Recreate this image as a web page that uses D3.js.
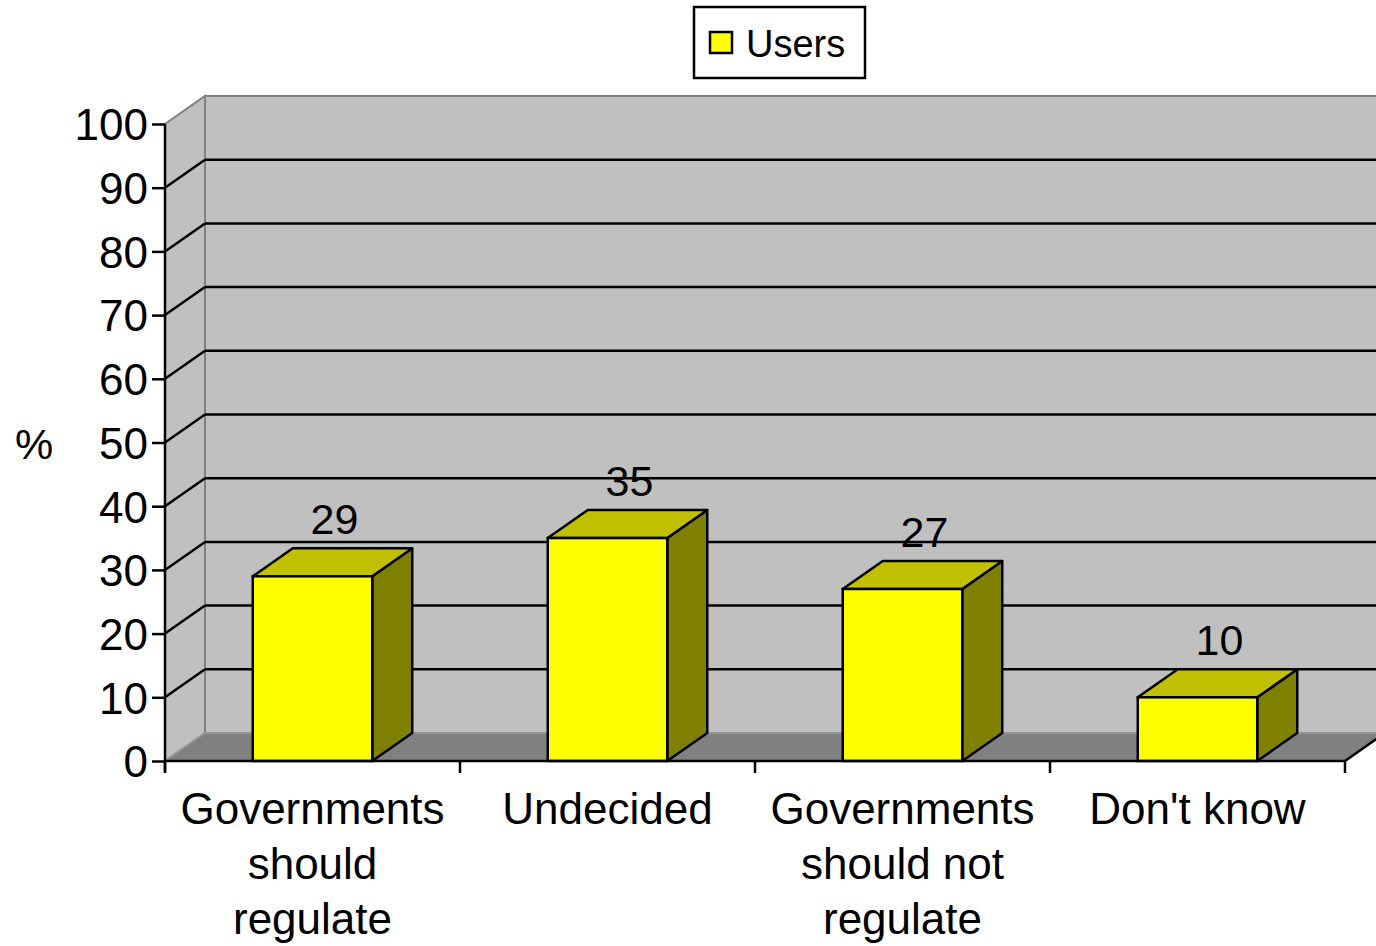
<!DOCTYPE html>
<html>
<head>
<meta charset="utf-8">
<script src="https://cdn.jsdelivr.net/npm/d3@7"></script>
<style>
  html, body { margin: 0; padding: 0; background: #fff; }
  svg { display: block; font-family: "Liberation Sans", Arial, sans-serif; }
</style>
</head>
<body>
<svg id="chart" width="1376" height="946"></svg>
<script>
// Survey results: opinion on government regulation (users, %)
const categories = [
  ["Governments", "should", "regulate"],
  ["Undecided"],
  ["Governments", "should not", "regulate"],
  ["Don't know"]
];
const users = [29, 35, 27, 10];
const yTicks = [0, 10, 20, 30, 40, 50, 60, 70, 80, 90, 100];
const seriesName = "Users";
const axisTitle = "%";

(function () {
const svg = d3.select("#chart");
const W = 1376, H = 946;

// plot frame (front plane) and 3D depth offset
const plotLeft = 165, plotRight = 1345, plotBottom = 761, plotTop = 124;
const depthX = 40, depthY = -28;

const keys = categories.map((c, i) => i);
const x = d3.scaleBand().domain(keys).range([plotLeft, plotRight]).padding(0);
const y = d3.scaleLinear().domain([0, 100]).range([plotBottom, plotTop]);
const barW = x.bandwidth() * 0.405;

const wallFill = "#c0c0c0", floorFill = "#808080", edgeGray = "#808080";

// clip everything in the plot to the page width
svg.append("defs").append("clipPath").attr("id", "pageClip")
  .append("rect").attr("x", 0).attr("y", 0).attr("width", W).attr("height", H);
const g = svg.append("g").attr("clip-path", "url(#pageClip)");

const pts = a => a.map(p => p.join(",")).join(" ");

// side wall
g.append("polygon")
  .attr("points", pts([[plotLeft, y(0)], [plotLeft, y(100)], [plotLeft + depthX, y(100) + depthY], [plotLeft + depthX, y(0) + depthY]]))
  .attr("fill", wallFill).attr("stroke", edgeGray).attr("stroke-width", 2);

// back wall
g.append("polygon")
  .attr("points", pts([[plotLeft + depthX, y(0) + depthY], [plotLeft + depthX, y(100) + depthY], [plotRight + depthX, y(100) + depthY], [plotRight + depthX, y(0) + depthY]]))
  .attr("fill", wallFill).attr("stroke", edgeGray).attr("stroke-width", 2);

// floor
g.append("polygon")
  .attr("points", pts([[plotLeft, y(0)], [plotLeft + depthX, y(0) + depthY], [plotRight + depthX, y(0) + depthY], [plotRight, y(0)]]))
  .attr("fill", floorFill).attr("stroke", "#999").attr("stroke-width", 1.5);

// gridlines: diagonal on side wall, horizontal on back wall
const grid = yTicks.filter(t => t > 0 && t < 100);
g.selectAll("line.gside").data(grid).join("line").attr("class", "gside")
  .attr("x1", plotLeft).attr("y1", d => y(d))
  .attr("x2", plotLeft + depthX).attr("y2", d => y(d) + depthY)
  .attr("stroke", "#000").attr("stroke-width", 2.5);
g.selectAll("line.gback").data(grid).join("line").attr("class", "gback")
  .attr("x1", plotLeft + depthX).attr("y1", d => y(d) + depthY)
  .attr("x2", plotRight + depthX).attr("y2", d => y(d) + depthY)
  .attr("stroke", "#000").attr("stroke-width", 2.5);

// floor right edge
g.append("line")
  .attr("x1", plotRight).attr("y1", y(0)).attr("x2", plotRight + depthX).attr("y2", y(0) + depthY)
  .attr("stroke", "#000").attr("stroke-width", 2.5);

// bars as 3D boxes
const bars = g.selectAll("g.bar").data(users).join("g").attr("class", "bar");
bars.each(function (v, i) {
  const b = d3.select(this);
  const x0 = x(i) + (x.bandwidth() - barW) / 2, x1 = x0 + barW;
  const yt = y(v), yb = y(0);
  // side face
  b.append("polygon")
    .attr("points", pts([[x1, yb], [x1, yt], [x1 + depthX, yt + depthY], [x1 + depthX, yb + depthY]]))
    .attr("fill", "#808000").attr("stroke", "#000").attr("stroke-width", 2.5).attr("stroke-linejoin", "round");
  // top face
  b.append("polygon")
    .attr("points", pts([[x0, yt], [x0 + depthX, yt + depthY], [x1 + depthX, yt + depthY], [x1, yt]]))
    .attr("fill", "#c0c000").attr("stroke", "#000").attr("stroke-width", 2.5).attr("stroke-linejoin", "round");
  // front face
  b.append("rect")
    .attr("x", x0).attr("y", yt).attr("width", barW).attr("height", yb - yt)
    .attr("fill", "#ffff00").attr("stroke", "#000").attr("stroke-width", 2.5);
  // value label
  b.append("text")
    .attr("x", (x0 + x1) / 2 + 22).attr("y", yt + depthY - 14)
    .attr("text-anchor", "middle").attr("font-size", 43).attr("fill", "#000")
    .text(v);
});

// y axis
const yAxis = d3.axisLeft(y).tickValues(yTicks).tickSize(13).tickPadding(4);
const ya = svg.append("g").attr("transform", `translate(${plotLeft},0)`).call(yAxis);
ya.select(".domain").remove();
ya.selectAll(".tick line").attr("stroke", "#000").attr("stroke-width", 2.5);
ya.selectAll(".tick text").attr("font-size", 44).attr("fill", "#000")
  .attr("font-family", "Liberation Sans, Arial, sans-serif").attr("dy", "0.36em");
svg.append("line").attr("x1", plotLeft).attr("x2", plotLeft).attr("y1", y(100)).attr("y2", y(0) + 11)
  .attr("stroke", "#000").attr("stroke-width", 2.5);

// x axis line and category separators
svg.append("line").attr("x1", plotLeft).attr("x2", plotRight).attr("y1", y(0)).attr("y2", y(0))
  .attr("stroke", "#000").attr("stroke-width", 2.5);
const seps = keys.map(k => x(k)).concat([plotRight]);
svg.selectAll("line.sep").data(seps).join("line").attr("class", "sep")
  .attr("x1", d => d).attr("x2", d => d).attr("y1", y(0)).attr("y2", y(0) + 12)
  .attr("stroke", "#000").attr("stroke-width", 2.5);

// category labels
const cl = svg.selectAll("text.cat").data(categories).join("text").attr("class", "cat")
  .attr("text-anchor", "middle").attr("font-size", 44).attr("fill", "#000");
cl.each(function (lines, i) {
  const t = d3.select(this);
  lines.forEach((ln, j) => {
    t.append("tspan").attr("x", x(i) + x.bandwidth() / 2).attr("y", 824 + j * 55).text(ln);
  });
});

// axis title
svg.append("text").attr("x", 34).attr("y", 459).attr("text-anchor", "middle")
  .attr("font-size", 43).attr("fill", "#000").text(axisTitle);

// legend
const lg = svg.append("g");
lg.append("rect").attr("x", 694).attr("y", 7).attr("width", 171).attr("height", 71)
  .attr("fill", "#fff").attr("stroke", "#000").attr("stroke-width", 2.5);
lg.append("rect").attr("x", 710).attr("y", 32).attr("width", 22).attr("height", 21)
  .attr("fill", "#ffff00").attr("stroke", "#000").attr("stroke-width", 2.5);
lg.append("text").attr("x", 746).attr("y", 57).attr("font-size", 38).attr("fill", "#000").text(seriesName);
})();
</script>
</body>
</html>
